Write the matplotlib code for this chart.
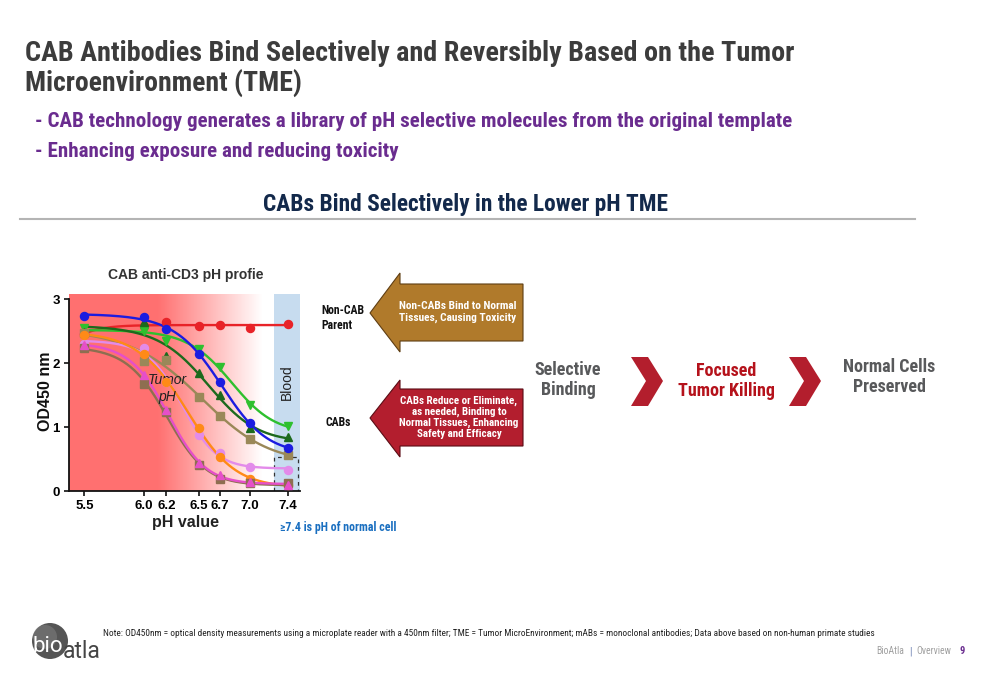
import numpy as np
import matplotlib
matplotlib.use('Agg')
import matplotlib.pyplot as plt
from matplotlib.patches import Polygon, Circle, Rectangle
from matplotlib.ticker import NullLocator
from matplotlib import font_manager as fm

names = {f.name for f in fm.fontManager.ttflist}
slide_font = 'Roboto Condensed' if 'Roboto Condensed' in names else 'Roboto'
chart_font = 'Liberation Sans Narrow' if 'Liberation Sans Narrow' in names else 'Liberation Sans'

# data
ph = [5.5, 6.0, 6.2, 6.5, 6.7, 7.0, 7.4]
ph_labels = ['5.5', '6.0', '6.2', '6.5', '6.7', '7.0', '7.4']
parent = [2.46, 2.58, 2.65, 2.58, 2.59, 2.55, 2.61]
cab_blue = [2.74, 2.72, 2.53, 2.14, 1.70, 1.07, 0.67]
cab_lime = [2.55, 2.50, 2.35, 2.22, 1.94, 1.35, 1.02]
cab_dkgreen = [2.49, 2.65, 2.11, 1.84, 1.50, 0.99, 0.84]
cab_khaki = [2.47, 2.04, 2.05, 1.47, 1.17, 0.82, 0.57]
cab_orange = [2.44, 2.14, 1.71, 0.99, 0.53, 0.19, 0.10]
cab_violet = [2.30, 2.23, 1.71, 0.87, 0.60, 0.38, 0.33]
cab_magenta = [2.28, 1.81, 1.26, 0.44, 0.25, 0.14, 0.10]
cab_brown = [2.23, 1.67, 1.24, 0.40, 0.19, 0.13, 0.12]
y_ticks = [0, 1, 2, 3]

series = [
    (parent, '#E82328', 'o'),
    (cab_lime, '#2EC02E', 'v'),
    (cab_dkgreen, '#1D6A1D', '^'),
    (cab_khaki, '#9A8858', 's'),
    (cab_blue, '#1C1CE0', 'o'),
    (cab_violet, '#E38BEA', 'o'),
    (cab_orange, '#FF8A17', 'o'),
    (cab_brown, '#8E6E50', 's'),
    (cab_magenta, '#E64FC9', '^'),
]


def fit_sigmoid(x, y):
    # 4-parameter logistic, grid over midpoint/slope, linear solve for top/bottom
    x = np.asarray(x, float)
    y = np.asarray(y, float)
    mids = np.linspace(5.2, 7.9, 271)
    hills = np.concatenate([np.linspace(-6, -0.4, 57), np.linspace(0.4, 6, 57)])
    M, H = np.meshgrid(mids, hills, indexing='ij')
    S = 1.0 / (1.0 + 10 ** ((x[None, None, :] - M[..., None]) * H[..., None]))
    sm = S.mean(-1, keepdims=True)
    ym = y.mean()
    var = ((S - sm) ** 2).sum(-1)
    cov = ((S - sm) * (y - ym)).sum(-1)
    slope = cov / np.maximum(var, 1e-12)
    icpt = ym - slope * sm[..., 0]
    err = (((icpt[..., None] + slope[..., None] * S) - y) ** 2).sum(-1)
    err = err + 1e-4 * np.abs(H)
    i, j = np.unravel_index(np.argmin(err), err.shape)
    return mids[i], hills[j], icpt[i, j], slope[i, j]


W, H_ = 1000, 685
fig = plt.figure(figsize=(10, 6.85), dpi=100)

ov = fig.add_axes([0, 0, 1, 1])
ov.set_xlim(0, W)
ov.set_ylim(H_, 0)
ov.axis('off')

renderer = fig.canvas.get_renderer()


def put(x, y, s, size, width=None, **kw):
    kw.setdefault('family', slide_font)
    t = ov.text(x, y, s, fontsize=size, **kw)
    if width:
        bb = t.get_window_extent(renderer)
        span = bb.height if kw.get('rotation') == 90 else bb.width
        t.set_fontsize(size * width / span)
    return t


# header
put(25, 61, 'CAB Antibodies Bind Selectively and Reversibly Based on the Tumor',
    20, width=768, weight='bold', color='#3C3C3C', va='baseline')
put(25, 91, 'Microenvironment (TME)', 20, weight='bold', color='#3C3C3C', va='baseline')
t1 = put(35, 127, '- CAB technology generates a library of pH selective molecules from the original template',
         15, width=755, weight='bold', color='#6A2C8F', va='baseline')
put(35, 157, '- Enhancing exposure and reducing toxicity', t1.get_fontsize(),
    weight='bold', color='#6A2C8F', va='baseline')
put(263, 211, 'CABs Bind Selectively in the Lower pH TME', 16, width=405,
    weight='bold', color='#13294B', va='baseline')
ov.plot([20, 915], [219, 219], color='#B4B4B4', lw=1.5)

# arrows
brown_arrow = [(370, 313), (400, 273), (400, 284), (523, 284), (523, 341),
               (400, 341), (400, 352)]
red_arrow = [(370, 418), (400, 380), (400, 389), (523, 389), (523, 446),
             (400, 446), (400, 457)]
ov.add_patch(Polygon(brown_arrow, closed=True, fc='#B07A2B', ec='#5E3D12', lw=0.8))
ov.add_patch(Polygon(red_arrow, closed=True, fc='#B31E2E', ec='#5A0C14', lw=0.8))
put(458, 312, 'Non-CABs Bind to Normal\nTissues, Causing Toxicity', 8.2,
    weight='bold', color='white', ha='center', va='center', linespacing=1.15)
put(459, 417, 'CABs Reduce or Eliminate,\nas needed, Binding to\nNormal Tissues, Enhancing\nSafety and Efficacy',
    7.9, weight='bold', color='white', ha='center', va='center', linespacing=1.1)
put(321, 318, 'Non-CAB\nParent', 8.5, weight='bold', color='#111111', va='center',
    linespacing=1.2)
put(325, 422, 'CABs', 8.5, weight='bold', color='#111111', va='center')

# flow on the right
chev = [(631, 357), (648, 357), (663, 381), (648, 406), (631, 406), (646, 381)]
for dx in (0, 158):
    ov.add_patch(Polygon([(px + dx, py) for px, py in chev], closed=True,
                         fc='#B31E2D', ec='none'))
put(568, 380, 'Selective\nBinding', 13, weight='bold', color='#58595B',
    ha='center', va='center', linespacing=1.2)
put(726, 381, 'Focused\nTumor Killing', 13, weight='bold', color='#B5121B',
    ha='center', va='center', linespacing=1.2)
put(889, 377, 'Normal Cells\nPreserved', 13, weight='bold', color='#58595B',
    ha='center', va='center', linespacing=1.2)

put(280, 531, '\u22657.4 is pH of normal cell', 8.5, width=115, weight='bold',
    color='#1A6FC0', va='baseline', family=[slide_font, 'DejaVu Sans'])

# footer
put(103, 636, 'Note: OD450nm = optical density measurements using a microplate reader with a 450nm filter; '
    'TME = Tumor MicroEnvironment; mABs = monoclonal antibodies; Data above based on non-human primate studies',
    7, width=777, color='#222222', va='baseline')
put(876, 654, 'BioAtla', 7, color='#A0A0A0', va='baseline')
put(909, 654, '|', 7.5, color='#6A7FB0', va='baseline')
put(916, 654, 'Overview', 7, color='#A0A0A0', va='baseline')
put(960, 654, '9', 7.5, weight='bold', color='#6A2C8F', va='baseline')
ov.add_patch(Circle((50, 641), 18, fc='#555555', ec='none'))
ov.add_patch(Circle((45, 637), 12, fc='#8A8A8A', ec='none', alpha=0.45))
put(32, 652, 'bio', 16, color='white', va='baseline', family='Roboto')
put(63, 658, 'atla', 16.5, color='#454545', va='baseline', family='Roboto')

# chart labels placed on the slide
put(186, 279, 'CAB anti-CD3 pH profie', 10, weight='bold', color='#333333',
    ha='center', va='baseline', family=chart_font)
put(46, 391, 'OD450 nm', 11.5, weight='bold', color='#111111', rotation=90,
    ha='center', va='center', family=chart_font)
put(186, 523, 'pH value', 11.5, weight='bold', color='#222222',
    ha='center', va='center', family=chart_font)

# chart
ax = fig.add_axes([69 / W, 1 - 491 / H_, 231 / W, 197 / H_])
ax.set_xscale('log')
ax.set_xlim(5.378, 7.534)
ax.set_ylim(0, 3.08)

grad = np.linspace(0, 1, 400)
alpha = np.clip((0.835 - grad) / (0.835 - 0.385), 0, 1)
img = np.zeros((1, grad.size, 4))
img[..., 0] = 1.0
img[..., 1] = 0.44
img[..., 2] = 0.44
img[..., 3] = alpha
ax.imshow(img, extent=(0, 1, 0, 1), transform=ax.transAxes, aspect='auto',
          interpolation='bilinear', zorder=0)
ax.add_patch(Rectangle((0.887, 0), 0.113, 1, transform=ax.transAxes,
                       fc='#C7DCEF', ec='none', zorder=0.5))
ax.plot([0.887, 0.887, 0.991, 0.991], [0, 0.173, 0.173, 0], transform=ax.transAxes,
        color='#333333', lw=0.9, ls=(0, (3, 3)), zorder=1)
ax.text(0.944, 0.55, 'Blood', transform=ax.transAxes, rotation=90, ha='center',
        va='center', fontsize=10, family='Liberation Sans', color='#222222')
ax.text(0.424, 0.52, 'Tumor\npH', transform=ax.transAxes, ha='center', va='center',
        fontsize=10, style='italic', family='Liberation Sans', color='#222222',
        linespacing=1.3)

xs = np.geomspace(5.5, 7.4, 300)
for vals, col, mk in series:
    m, h, b, k = fit_sigmoid(ph, vals)
    ys = b + k / (1 + 10 ** ((xs - m) * h))
    ax.plot(xs, ys, color=col, lw=1.7, zorder=2, solid_capstyle='round')
    ax.plot(ph, vals, ls='none', marker=mk, color=col, ms=5.8, zorder=3)

ax.set_xticks(ph)
ax.set_xticklabels(ph_labels)
ax.xaxis.set_minor_locator(NullLocator())
ax.set_yticks(y_ticks)
for lab in ax.get_xticklabels() + ax.get_yticklabels():
    lab.set_family(chart_font)
    lab.set_weight('bold')
    lab.set_fontsize(9.5)
ax.tick_params(axis='both', direction='out', length=3.5, width=1.2, color='#111111',
               pad=3)
ax.spines['top'].set_visible(False)
ax.spines['right'].set_visible(False)
for s in ('left', 'bottom'):
    ax.spines[s].set_linewidth(1.3)
    ax.spines[s].set_color('#111111')
ax.spines['left'].set_bounds(0, 3)
ax.set_facecolor('none')

fig.savefig('out.png', dpi=100)
